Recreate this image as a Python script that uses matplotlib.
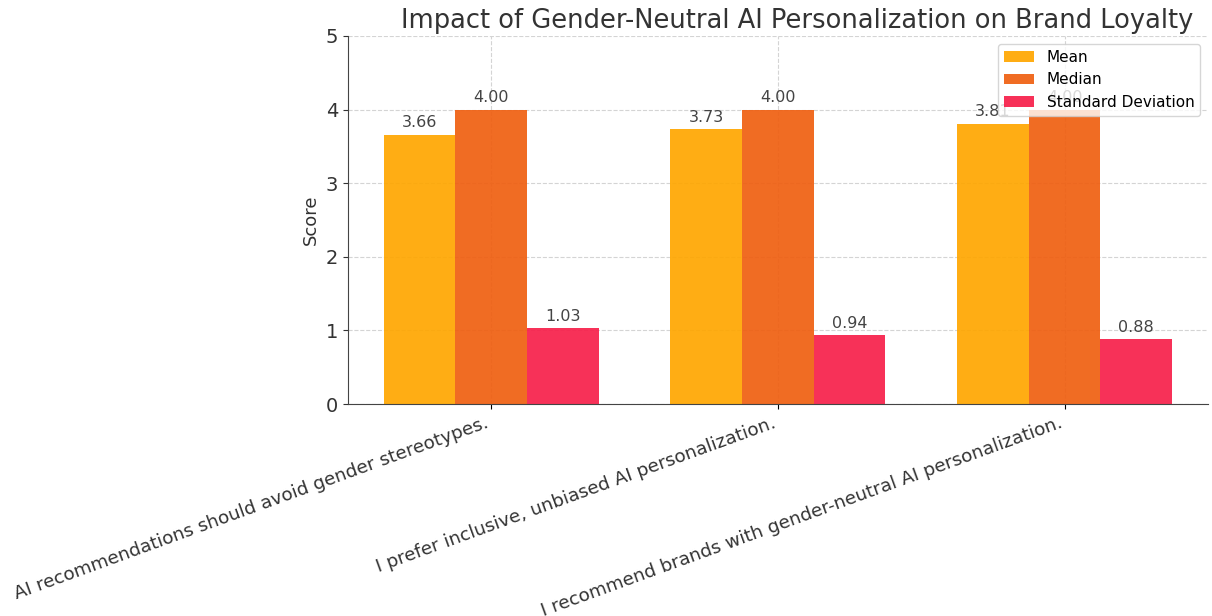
import matplotlib
matplotlib.use("Agg")
import matplotlib.pyplot as plt
import numpy as np

statements = [
    "AI recommendations should avoid gender stereotypes.",
    "I prefer inclusive, unbiased AI personalization.",
    "I recommend brands with gender-neutral AI personalization.",
]
mean_scores = [3.66, 3.73, 3.81]
median_scores = [4.00, 4.00, 4.00]
std_scores = [1.03, 0.94, 0.88]

series_names = ["Mean", "Median", "Standard Deviation"]
series_colors = ["#ffa600", "#ef5f10", "#f71f4a"]

fig = plt.figure(figsize=(12.12, 6.16), dpi=100)
ax = fig.add_axes([0.287, 0.344, 0.7097, 0.5976])

x = np.arange(len(statements))
width = 0.25

for i, (name, values, color) in enumerate(
    zip(series_names, [mean_scores, median_scores, std_scores], series_colors)
):
    bars = ax.bar(x + (i - 1) * width, values, width, label=name,
                  color=color, alpha=0.92, zorder=2)
    for bar, v in zip(bars, values):
        ax.annotate(f"{v:.2f}",
                    xy=(bar.get_x() + bar.get_width() / 2, v),
                    xytext=(0, 3), textcoords="offset points",
                    ha="center", va="bottom", fontsize=11.5, color="#444444")

ax.set_xlim(-0.5, 2.5)
ax.set_ylim(0, 5)
ax.set_xticks(x)
ax.set_xticklabels(statements, rotation=20, ha="right", fontsize=13.2,
                   color="#333333")
ax.tick_params(axis="y", labelsize=14, colors="#333333")
ax.set_ylabel("Score", fontsize=13, color="#333333")
ax.set_title("Impact of Gender-Neutral AI Personalization on Brand Loyalty",
             fontsize=18.5, color="#333333", pad=6, x=0.522)

ax.grid(True, color="#d4d4d4", linestyle="--", linewidth=0.8, zorder=0)
ax.set_axisbelow(True)
for side in ("top", "right"):
    ax.spines[side].set_visible(False)
for side in ("left", "bottom"):
    ax.spines[side].set_color("#444444")

ax.legend(loc="upper right", fontsize=11, bbox_to_anchor=(1.0, 1.0))

fig.savefig("out.png", dpi=100)
